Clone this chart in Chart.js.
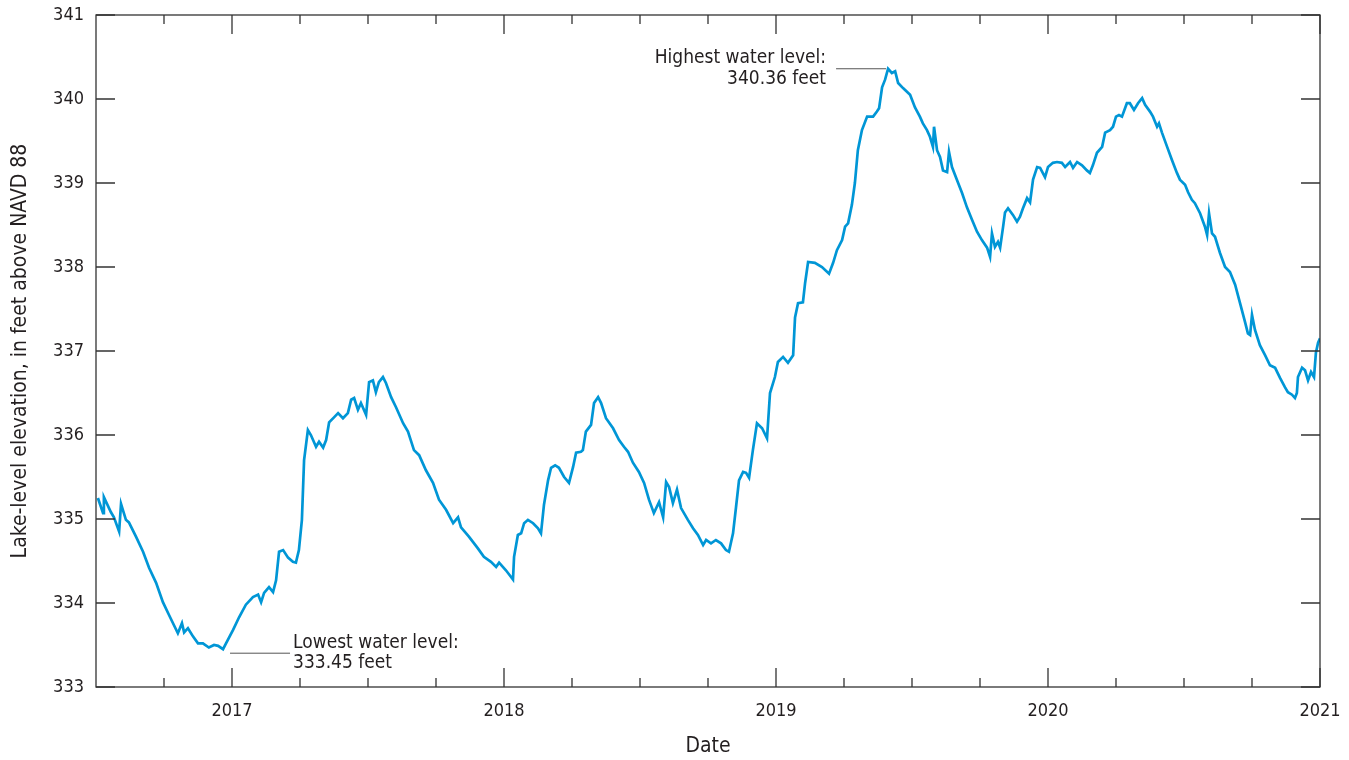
<!DOCTYPE html>
<html>
<head>
<meta charset="utf-8">
<script src="https://cdn.jsdelivr.net/npm/chart.js@4"></script>
<style>
  html, body { margin: 0; padding: 0; background: #fff; }
  #wrap { width: 1349px; height: 760px; }
</style>
</head>
<body>
<div id="wrap"><canvas id="lakeChart"></canvas></div>
<script>
// decimal year of each reading
const dates = [
  2016.507, 2016.526, 2016.529, 2016.555, 2016.566, 2016.585, 2016.592, 2016.610, 2016.621, 2016.647,
  2016.673, 2016.695, 2016.721, 2016.746, 2016.768, 2016.801, 2016.816, 2016.824, 2016.838, 2016.857,
  2016.875, 2016.893, 2016.915, 2016.934, 2016.949, 2016.967, 2016.978, 2017.004, 2017.026, 2017.051,
  2017.077, 2017.096, 2017.107, 2017.118, 2017.136, 2017.151, 2017.162, 2017.173, 2017.188, 2017.206,
  2017.224, 2017.235, 2017.246, 2017.257, 2017.265, 2017.279, 2017.290, 2017.309, 2017.320, 2017.335,
  2017.346, 2017.357, 2017.375, 2017.390, 2017.408, 2017.426, 2017.438, 2017.449, 2017.463, 2017.474,
  2017.493, 2017.504, 2017.518, 2017.529, 2017.540, 2017.555, 2017.566, 2017.585, 2017.603, 2017.629,
  2017.647, 2017.669, 2017.688, 2017.713, 2017.739, 2017.761, 2017.787, 2017.813, 2017.831, 2017.842,
  2017.871, 2017.904, 2017.926, 2017.952, 2017.971, 2017.982, 2018.007, 2018.033, 2018.037, 2018.051,
  2018.063, 2018.074, 2018.088, 2018.107, 2018.125, 2018.136, 2018.147, 2018.162, 2018.173, 2018.188,
  2018.202, 2018.221, 2018.239, 2018.254, 2018.265, 2018.283, 2018.290, 2018.301, 2018.320, 2018.331,
  2018.346, 2018.357, 2018.375, 2018.401, 2018.423, 2018.441, 2018.456, 2018.474, 2018.496, 2018.515,
  2018.533, 2018.551, 2018.570, 2018.585, 2018.596, 2018.607, 2018.621, 2018.636, 2018.651, 2018.676,
  2018.695, 2018.713, 2018.732, 2018.743, 2018.761, 2018.779, 2018.798, 2018.816, 2018.827, 2018.842,
  2018.853, 2018.864, 2018.879, 2018.890, 2018.901, 2018.915, 2018.930, 2018.949, 2018.967, 2018.978,
  2018.996, 2019.007, 2019.026, 2019.044, 2019.063, 2019.070, 2019.081, 2019.099, 2019.107, 2019.118,
  2019.143, 2019.169, 2019.195, 2019.210, 2019.224, 2019.243, 2019.254, 2019.265, 2019.279, 2019.290,
  2019.301, 2019.316, 2019.335, 2019.357, 2019.371, 2019.379, 2019.390, 2019.401, 2019.412, 2019.426,
  2019.438, 2019.449, 2019.467, 2019.493, 2019.511, 2019.529, 2019.540, 2019.555, 2019.566, 2019.577,
  2019.581, 2019.592, 2019.603, 2019.614, 2019.629, 2019.636, 2019.647, 2019.665, 2019.684, 2019.702,
  2019.721, 2019.739, 2019.757, 2019.776, 2019.787, 2019.794, 2019.805, 2019.816, 2019.824, 2019.835,
  2019.842, 2019.853, 2019.871, 2019.886, 2019.897, 2019.908, 2019.923, 2019.934, 2019.945, 2019.960,
  2019.971, 2019.989, 2020.000, 2020.018, 2020.033, 2020.051, 2020.063, 2020.081, 2020.092, 2020.107,
  2020.125, 2020.143, 2020.154, 2020.165, 2020.180, 2020.199, 2020.210, 2020.228, 2020.239, 2020.250,
  2020.261, 2020.272, 2020.290, 2020.301, 2020.316, 2020.331, 2020.346, 2020.357, 2020.375, 2020.386,
  2020.401, 2020.408, 2020.419, 2020.438, 2020.456, 2020.474, 2020.485, 2020.504, 2020.515, 2020.529,
  2020.540, 2020.559, 2020.577, 2020.585, 2020.592, 2020.603, 2020.614, 2020.632, 2020.651, 2020.669,
  2020.688, 2020.706, 2020.724, 2020.735, 2020.743, 2020.750, 2020.761, 2020.779, 2020.798, 2020.816,
  2020.835, 2020.853, 2020.871, 2020.882, 2020.897, 2020.908, 2020.915, 2020.919, 2020.934, 2020.945,
  2020.956, 2020.967, 2020.978, 2020.985, 2020.993, 2021.000
];

// lake elevation, feet above NAVD 88
const levels = [
  335.25, 335.07, 335.26, 335.08, 335.02, 334.85, 335.18, 334.99, 334.96, 334.79,
  334.61, 334.42, 334.24, 334.01, 333.86, 333.64, 333.76, 333.65, 333.70, 333.60,
  333.52, 333.52, 333.47, 333.50, 333.49, 333.45, 333.52, 333.68, 333.83, 333.98,
  334.07, 334.10, 334.01, 334.12, 334.19, 334.13, 334.27, 334.61, 334.63, 334.54,
  334.49, 334.48, 334.63, 334.99, 335.70, 336.06, 336.00, 335.86, 335.92, 335.85,
  335.94, 336.15, 336.21, 336.26, 336.20, 336.26, 336.42, 336.44, 336.30, 336.38,
  336.24, 336.63, 336.65, 336.51, 336.63, 336.69, 336.62, 336.45, 336.33, 336.14,
  336.04, 335.82, 335.76, 335.58, 335.43, 335.23, 335.11, 334.95, 335.02, 334.90,
  334.79, 334.65, 334.55, 334.49, 334.43, 334.48, 334.39, 334.28, 334.55, 334.81,
  334.83, 334.95, 334.99, 334.95, 334.89, 334.83, 335.17, 335.46, 335.61, 335.64,
  335.61, 335.50, 335.43, 335.62, 335.79, 335.80, 335.82, 336.04, 336.12, 336.38,
  336.45, 336.38, 336.20, 336.08, 335.94, 335.86, 335.80, 335.67, 335.56, 335.43,
  335.23, 335.07, 335.20, 335.02, 335.44, 335.38, 335.19, 335.35, 335.13, 334.99,
  334.89, 334.81, 334.69, 334.75, 334.71, 334.75, 334.71, 334.63, 334.61, 334.83,
  335.14, 335.46, 335.56, 335.55, 335.49, 335.82, 336.14, 336.08, 335.96, 336.50,
  336.69, 336.87, 336.93, 336.86, 336.95, 337.40, 337.57, 337.58, 337.81, 338.06,
  338.05, 338.00, 337.92, 338.05, 338.20, 338.32, 338.48, 338.52, 338.74, 339.00,
  339.39, 339.63, 339.79, 339.79, 339.85, 339.89, 340.14, 340.23, 340.36, 340.31,
  340.33, 340.19, 340.13, 340.05, 339.90, 339.79, 339.71, 339.63, 339.55, 339.43,
  339.67, 339.39, 339.31, 339.15, 339.13, 339.37, 339.19, 339.04, 338.88, 338.71,
  338.56, 338.42, 338.32, 338.23, 338.12, 338.40, 338.24, 338.30, 338.23, 338.48,
  338.65, 338.70, 338.62, 338.54, 338.60, 338.70, 338.82, 338.77, 339.04, 339.19,
  339.18, 339.07, 339.19, 339.24, 339.25, 339.24, 339.19, 339.25, 339.18, 339.25,
  339.21, 339.15, 339.12, 339.21, 339.36, 339.43, 339.60, 339.63, 339.67, 339.79,
  339.81, 339.79, 339.95, 339.95, 339.87, 339.95, 340.01, 339.93, 339.85, 339.79,
  339.67, 339.71, 339.60, 339.43, 339.27, 339.12, 339.04, 338.98, 338.89, 338.80,
  338.76, 338.64, 338.48, 338.38, 338.64, 338.40, 338.36, 338.17, 338.00, 337.94,
  337.79, 337.57, 337.35, 337.21, 337.19, 337.43, 337.25, 337.07, 336.95, 336.83,
  336.80, 336.68, 336.57, 336.51, 336.48, 336.44, 336.50, 336.69, 336.80, 336.77,
  336.65, 336.75, 336.69, 336.98, 337.10, 337.15
];

const yearTicks = [2017, 2018, 2019, 2020, 2021];
const quarterTicks = [2016.75, 2017.25, 2017.5, 2017.75, 2018.25, 2018.5, 2018.75,
  2019.25, 2019.5, 2019.75, 2020.25, 2020.5, 2020.75];
const levelTicks = [333, 334, 335, 336, 337, 338, 339, 340, 341];

const lowest = { date: 2016.967, level: 333.45, text: ['Lowest water level:', '333.45 feet'] };
const highest = { date: 2019.412, level: 340.36, text: ['Highest water level:', '340.36 feet'] };

const FONT = "'Liberation Sans Narrow', 'Arial Narrow', 'DejaVu Sans Condensed', sans-serif";
const INK = '#231f20';

const frame = {
  id: 'frame',
  afterDraw(c) {
    const ctx = c.ctx;
    const a = c.chartArea;
    const x = c.scales.x, y = c.scales.y;
    ctx.save();
    ctx.strokeStyle = '#333';
    ctx.lineWidth = 1.3;
    ctx.strokeRect(a.left, a.top, a.right - a.left, a.bottom - a.top);

    const tick = (px, len) => {
      ctx.moveTo(px, a.bottom); ctx.lineTo(px, a.bottom - len);
      ctx.moveTo(px, a.top); ctx.lineTo(px, a.top + len);
    };
    ctx.beginPath();
    yearTicks.forEach(t => tick(x.getPixelForValue(t), 19));
    quarterTicks.forEach(t => tick(x.getPixelForValue(t), 9));
    levelTicks.forEach(v => {
      const py = y.getPixelForValue(v);
      ctx.moveTo(a.left, py); ctx.lineTo(a.left + 19, py);
      ctx.moveTo(a.right, py); ctx.lineTo(a.right - 19, py);
    });
    ctx.stroke();

    // callouts
    ctx.strokeStyle = '#555';
    ctx.lineWidth = 1;
    ctx.fillStyle = INK;
    ctx.font = '19px ' + FONT;
    ctx.textBaseline = 'middle';

    let px = x.getPixelForValue(lowest.date), py = y.getPixelForValue(lowest.level);
    ctx.beginPath();
    ctx.moveTo(px + 7, py + 4); ctx.lineTo(px + 67, py + 4);
    ctx.stroke();
    ctx.textAlign = 'left';
    ctx.fillText(lowest.text[0], px + 70, py - 6);
    ctx.fillText(lowest.text[1], px + 70, py + 14);

    px = x.getPixelForValue(highest.date); py = y.getPixelForValue(highest.level);
    ctx.beginPath();
    ctx.moveTo(px - 52, py); ctx.lineTo(px - 2, py);
    ctx.stroke();
    ctx.textAlign = 'right';
    ctx.fillText(highest.text[0], px - 62, py - 11);
    ctx.fillText(highest.text[1], px - 62, py + 10);
    ctx.restore();
  }
};

const points = dates.map((d, i) => ({ x: d, y: levels[i] }));

new Chart(document.getElementById('lakeChart'), {
  type: 'line',
  data: {
    datasets: [{
      data: points,
      borderColor: '#0096d6',
      borderWidth: 2.7,
      pointRadius: 0,
      tension: 0,
      fill: false
    }]
  },
  options: {
    responsive: true,
    maintainAspectRatio: false,
    animation: false,
    layout: { padding: { top: 15, right: 29, left: 0, bottom: 0 } },
    plugins: { legend: { display: false }, tooltip: { enabled: false } },
    scales: {
      x: {
        type: 'linear',
        min: 2016.5,
        max: 2021,
        afterBuildTicks: s => { s.ticks = yearTicks.map(v => ({ value: v })); },
        afterFit: s => { s.height = 73; s.paddingLeft = 0; s.paddingRight = 0; },
        grid: { display: false, drawTicks: false },
        border: { display: false },
        ticks: {
          padding: 14,
          color: INK,
          font: { family: FONT, size: 18 },
          maxRotation: 0,
          callback: v => String(v)
        },
        title: {
          display: true,
          text: 'Date',
          color: INK,
          font: { family: FONT, size: 21 },
          padding: { top: 0, bottom: 1 }
        }
      },
      y: {
        min: 333,
        max: 341,
        afterBuildTicks: s => { s.ticks = levelTicks.map(v => ({ value: v })); },
        afterFit: s => { s.width = 96; s.paddingTop = 0; s.paddingBottom = 0; },
        grid: { display: false, drawTicks: false },
        border: { display: false },
        ticks: {
          padding: 12,
          color: INK,
          font: { family: FONT, size: 18 },
          callback: v => String(v)
        },
        title: {
          display: true,
          text: 'Lake-level elevation, in feet above NAVD 88',
          color: INK,
          font: { family: FONT, size: 21 },
          padding: { top: 8, bottom: 0 }
        }
      }
    }
  },
  plugins: [frame]
});
</script>
</body>
</html>
